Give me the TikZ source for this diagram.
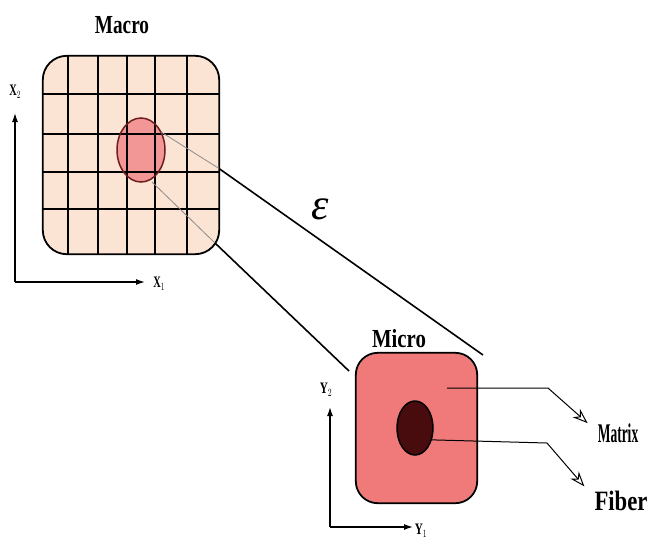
\documentclass[tikz,border=0pt]{standalone}
\usepackage{fontspec}
\setmainfont{Liberation Serif}
\usetikzlibrary{arrows.meta,shapes.geometric,calc}
\definecolor{macrofill}{RGB}{252,228,212}
\definecolor{inclfill}{RGB}{243,150,150}
\definecolor{microfill}{RGB}{240,122,122}
\definecolor{fiberfill}{RGB}{72,12,14}
\definecolor{edgered}{RGB}{110,30,30}
\newcommand{\sqz}[2]{\scalebox{#1}[1]{#2}}
\begin{document}
\begin{tikzpicture}[x=1pt,y=-1pt,
  boxfill/.style={rectangle,rounded corners=24pt,inner sep=0pt},
  boxline/.style={draw=black,line width=1.8pt,rounded corners=24pt},
  gridline/.style={line width=1.7pt},
  lab/.style={font=\fontsize{26}{26}\selectfont\bfseries,inner sep=0pt,anchor=base},
  axlab/.style={font=\fontsize{16}{16}\selectfont\bfseries,inner sep=0pt},
  axis/.style={line width=1.3pt,-{Latex[length=9pt,width=6pt]}},
  link/.style={line width=1.6pt},
  faint/.style={line width=0.8pt,black!45},
  callout/.style={line width=1pt,-{Stealth[open,length=15pt,width=11pt]}}
]
\useasboundingbox (0,0) rectangle (648,547);
% macro box
\node[boxfill,fill=macrofill,minimum width=176pt,minimum height=198pt] (macro) at (131,155) {};
\node[ellipse,fill=inclfill,minimum width=48pt,minimum height=64pt,inner sep=0pt] (incl) at (141,150) {};
\begin{scope}
  \clip[rounded corners=24pt] (macro.north west) rectangle (macro.south east);
  \foreach \x in {68,98,127,155,187} \draw[gridline] (\x,56) -- (\x,254);
  \foreach \y in {94,134,172,209} \draw[gridline] (43,\y) -- (219,\y);
\end{scope}
\draw[boxline] (macro.north west) rectangle (macro.south east);
\draw[edgered,line width=1.5pt] (incl.center) ellipse [x radius=24pt, y radius=32pt];
\node[lab] (macrolab) at (122,33) {\sqz{0.74}{Macro}};
% macro axes
\coordinate (o1) at (15,282);
\coordinate (x2end) at (15,113);
\coordinate (x1end) at (145,282);
\draw[axis] (o1) -- (x2end);
\draw[axis] (o1) -- (x1end);
\node[axlab] (x2lab) at (15,92) {\sqz{0.65}{X$_2$}};
\node[axlab] (x1lab) at (159,284) {\sqz{0.65}{X$_1$}};
% micro box
\node[boxfill,fill=microfill,minimum width=121pt,minimum height=150pt] (micro) at (416.5,428) {};
\draw[boxline,rounded corners=22pt] (micro.north west) rectangle (micro.south east);
\node[ellipse,draw=black,line width=1.5pt,fill=fiberfill,minimum width=36pt,minimum height=54pt,inner sep=0pt] (fiber) at (415,428) {};
\node[lab] (microlab) at (399,347) {\sqz{0.8}{Micro}};
% linking lines
\coordinate (ucross) at (219,168.5);
\coordinate (uend) at (483,355);
\coordinate (lstart) at (152,182);
\coordinate (lcross) at (215,243);
\coordinate (lend) at (349,371);
\draw[faint] (incl.42) -- (ucross);
\draw[link] (ucross) -- (uend);
\draw[faint] (lstart) -- (lcross);
\draw[link] (lcross) -- (lend);
\node[inner sep=0pt,font=\fontsize{44}{44}\selectfont\itshape] (eps) at (320,209) {ε};
% micro axes
\coordinate (o2) at (330,527);
\coordinate (y2end) at (330,407);
\coordinate (y1end) at (413,527);
\draw[axis] (o2) -- (y2end);
\draw[axis] (o2) -- (y1end);
\node[axlab] (y2lab) at (326,390) {\sqz{0.7}{Y$_2$}};
\node[axlab] (y1lab) at (421,531) {\sqz{0.7}{Y$_1$}};
% labels with callouts
\node[lab,font=\fontsize{27}{27}\selectfont\bfseries] (matrix) at (618,442) {\sqz{0.5}{Matrix}};
\node[lab,font=\fontsize{28}{28}\selectfont\bfseries] (fiberlab) at (621,510) {\sqz{0.81}{Fiber}};
\coordinate (mstart) at (447,388);
\draw[callout] (mstart) -- (548,388) -- ($(matrix.north west)+(-10,0)$);
\draw[callout] (fiber.-35) -- (547,443) -- ($(fiberlab.north west)+(-10,-4)$);
\end{tikzpicture}
\end{document}
